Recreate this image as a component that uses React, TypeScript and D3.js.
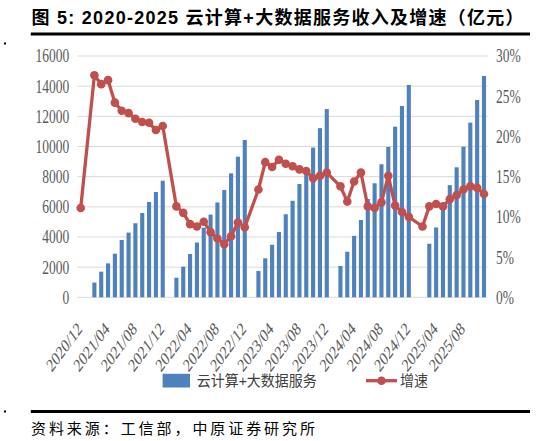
import React, { useEffect } from "react";
import * as d3 from "d3";

const categories = [
  "2020/12",
  "2021/01","2021/02","2021/03","2021/04","2021/05","2021/06","2021/07","2021/08","2021/09","2021/10","2021/11","2021/12",
  "2022/01","2022/02","2022/03","2022/04","2022/05","2022/06","2022/07","2022/08","2022/09","2022/10","2022/11","2022/12",
  "2023/01","2023/02","2023/03","2023/04","2023/05","2023/06","2023/07","2023/08","2023/09","2023/10","2023/11","2023/12",
  "2024/01","2024/02","2024/03","2024/04","2024/05","2024/06","2024/07","2024/08","2024/09","2024/10","2024/11","2024/12",
  "2025/01","2025/02","2025/03","2025/04","2025/05","2025/06","2025/07","2025/08","2025/09","2025/10","2025/11",
];

// 云计算+大数据服务收入（亿元）
const revenue: (number | null)[] = [
  null,
  null, 980, 1700, 2250, 2890, 3800, 4290, 4910, 5590, 6320, 6980, 7730,
  null, 1300, 2030, 2870, 3630, 4620, 5480, 6290, 7115, 8220, 9325, 10430,
  null, 1750, 2585, 3480, 4330, 5504, 6400, 7513, 8550, 9930, 11215, 12480,
  null, 2076, 3024, 4075, 5126, 6518, 7560, 8820, 9967, 11313, 12686, 14078,
  null, null, 3550, 4630, 6010, 7437, 8620, 9987, 11578, 13084, 14675,
];

// 增速（%）
const growth: (number | null)[] = [
  11.1,
  null, 27.6, 26.5, 27.0, 24.2, 23.2, 22.9, 22.2, 21.8, 21.7, 20.8, 21.3,
  null, 11.3, 10.5, 9.1, 8.8, 9.4, 8.1, 7.3, 6.6, 7.6, 9.3, 8.7,
  null, 13.4, 16.8, 16.2, 17.1, 16.6, 16.3, 15.9, 15.7, 14.8, 15.1, 15.5,
  null, 13.8, 11.9, 14.4, 15.5, 11.3, 11.1, 11.8, 15.1, 11.4, 10.6, 10.0,
  null, 8.8, 11.3, 11.6, 11.3, 12.2, 12.7, 13.4, 13.8, 13.6, 12.85,
];

const xTickLabels = [
  "2020/12","2021/04","2021/08","2021/12","2022/04","2022/08","2022/12",
  "2023/04","2023/08","2023/12","2024/04","2024/08","2024/12","2025/04","2025/08",
];
const leftTicks = [0, 2000, 4000, 6000, 8000, 10000, 12000, 14000, 16000];
const rightTicks = [0, 5, 10, 15, 20, 25, 30];

const title = "图 5: 2020-2025 云计算+大数据服务收入及增速（亿元）";
const barLabel = "云计算+大数据服务";
const lineLabel = "增速";
const source = "资料来源：工信部，中原证券研究所";

const BLUE = "#4f81bd";
const RED = "#c0504d";
const TICK = "#595959";
const SERIF = "'Liberation Serif','Times New Roman',serif";
const CJK = "'Liberation Sans','Noto Sans CJK SC',sans-serif";

export default function App() {
  useEffect(() => {
    document.body.style.margin = "0";
  }, []);

  const W = 537, H = 441;
  const left = 77.3, right = 487.4, top = 56, bottom = 297.3;

  const x = d3.scaleBand<string>().domain(categories).range([left, right]).paddingInner(0.4).paddingOuter(0.2);
  const yL = d3.scaleLinear().domain([0, 16000]).range([bottom, top]);
  const yR = d3.scaleLinear().domain([0, 30]).range([bottom, top]);
  const cx = (c: string) => (x(c) as number) + x.bandwidth() / 2;

  const pts = categories
    .map((c, i) => ({ c, v: growth[i] }))
    .filter((d) => d.v !== null) as { c: string; v: number }[];
  const lineGen = d3.line<{ c: string; v: number }>().x((d) => cx(d.c)).y((d) => yR(d.v));

  const stretch = 1.37;

  return (
    <svg width={W} height={H} style={{ position: "absolute", left: 0, top: 0, background: "#fff" }}>
      <rect x={0} y={0} width={W} height={H} fill="#fff" />
      {/* title */}
      <text x={31.5} y={24} fontFamily={CJK} fontWeight={700} fontSize={18} fill="#000"
        textLength={492} lengthAdjust="spacing">{title}</text>
      <line x1={30.8} x2={530} y1={34} y2={34} stroke="#000" strokeWidth={3} />
      <rect x={4} y={42.5} width={2} height={2} fill="#000" />

      {/* gridlines */}
      {leftTicks.map((t) => (
        <line key={"g" + t} x1={left} x2={right} y1={yL(t)} y2={yL(t)} stroke="#d9d9d9" strokeWidth={1} />
      ))}

      {/* left axis labels */}
      {leftTicks.map((t) => (
        <text key={"l" + t} transform={`translate(69.3,${yL(t)}) scale(1,${stretch})`} textAnchor="end" dy="0.35em"
          fontFamily={SERIF} fontSize={13.5} fill={TICK}>{t}</text>
      ))}
      {/* right axis labels */}
      {rightTicks.map((t) => (
        <text key={"r" + t} transform={`translate(496,${yR(t)}) scale(1,${stretch})`} textAnchor="start" dy="0.35em"
          fontFamily={SERIF} fontSize={13.5} fill={TICK}>{t + "%"}</text>
      ))}

      {/* bars */}
      {categories.map((c, i) =>
        revenue[i] === null ? null : (
          <rect key={"b" + c} x={x(c)} y={yL(revenue[i] as number)} width={x.bandwidth()}
            height={bottom - yL(revenue[i] as number)} fill={BLUE} />
        )
      )}

      {/* line */}
      <path d={lineGen(pts) || ""} fill="none" stroke={RED} strokeWidth={3.3} strokeLinejoin="round" />
      {pts.map((d) => (
        <circle key={"p" + d.c} cx={cx(d.c)} cy={yR(d.v)} r={4.3} fill={RED} />
      ))}

      {/* x labels */}
      {xTickLabels.map((c) => (
        <text key={"x" + c} transform={`translate(${cx(c) + 2.3},${bottom + 32.7}) scale(1,${stretch}) rotate(-45)`}
          textAnchor="end" fontFamily={SERIF} fontSize={13.5} fill={TICK}>{c}</text>
      ))}

      {/* legend */}
      <rect x={162.6} y={373.8} width={27.4} height={13.7} fill={BLUE} />
      <text x={196.8} y={386} fontFamily={CJK} fontSize={15} fill="#404040" textLength={119.8}
        lengthAdjust="spacingAndGlyphs">{barLabel}</text>
      <line x1={366} x2={397} y1={380.7} y2={380.7} stroke={RED} strokeWidth={3.3} />
      <circle cx={381.5} cy={380.7} r={4.3} fill={RED} />
      <text x={400} y={386} fontFamily={CJK} fontSize={15} fill="#404040" textLength={28}
        lengthAdjust="spacingAndGlyphs">{lineLabel}</text>

      {/* footer */}
      <rect x={4} y={410.5} width={2} height={2} fill="#000" />
      <line x1={30.8} x2={530} y1={411.5} y2={411.5} stroke="#000" strokeWidth={3} />
      <text x={31} y={434} fontFamily={CJK} fontSize={15} fill="#000" textLength={284}
        lengthAdjust="spacing">{source}</text>
    </svg>
  );
}
